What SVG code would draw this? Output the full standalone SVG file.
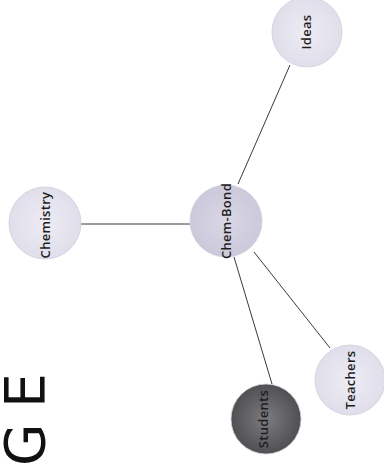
<svg xmlns="http://www.w3.org/2000/svg" width="384" height="467" viewBox="0 0 384 467">
  <defs>
    <radialGradient id="lav" cx="50%" cy="50%" r="50%">
      <stop offset="0" stop-color="#eeedf5"/>
      <stop offset="1" stop-color="#dfdeea"/>
    </radialGradient>
    <radialGradient id="hub" cx="50%" cy="50%" r="50%">
      <stop offset="0" stop-color="#dad8e6"/>
      <stop offset="1" stop-color="#cbc9da"/>
    </radialGradient>
    <radialGradient id="dark" cx="50%" cy="50%" r="50%">
      <stop offset="0" stop-color="#7c7c7e"/>
      <stop offset="1" stop-color="#505052"/>
    </radialGradient>
  </defs>
  <style>
    .node { stroke: #cfcdd8; stroke-width: 0.8; }
    .lbl { font-family: "Open Sans", "Liberation Sans", sans-serif; font-weight: 600; font-size: 13px; letter-spacing: 0.3px; fill: #1e1e22; text-anchor: middle; dominant-baseline: central; }
    .edge { stroke: #3a3a3e; stroke-width: 1; fill: none; }
    .big { font-family: "DejaVu Sans", "Liberation Sans", sans-serif; font-size: 55px; fill: #111; }
  </style>
  <rect width="384" height="467" fill="#ffffff"/>

  <g id="connectors">
    <line class="edge" x1="81" y1="224" x2="190" y2="224"/>
    <line class="edge" x1="290" y1="65" x2="238" y2="184"/>
    <line class="edge" x1="254" y1="252" x2="330" y2="348"/>
    <line class="edge" x1="234" y1="257" x2="272" y2="384"/>
  </g>

  <g id="chemistry">
    <circle class="node" cx="45" cy="223" r="36" fill="url(#lav)"/>
    <text class="lbl" x="45" y="225" transform="rotate(-90 45 225)">Chemistry</text>
  </g>

  <g id="chem-bond">
    <circle class="node" cx="226" cy="221" r="36" fill="url(#hub)"/>
    <text class="lbl" x="226" y="221" transform="rotate(-90 226 221)">Chem-Bond</text>
  </g>

  <g id="ideas">
    <circle class="node" cx="307" cy="32" r="35" fill="url(#lav)"/>
    <text class="lbl" x="306" y="32" transform="rotate(-90 306 32)">Ideas</text>
  </g>

  <g id="teachers">
    <circle class="node" cx="350" cy="380" r="35" fill="url(#lav)"/>
    <text class="lbl" x="350" y="380" transform="rotate(-90 350 380)">Teachers</text>
  </g>

  <g id="students">
    <circle class="node" cx="266" cy="419" r="35" fill="url(#dark)" stroke="#4a4a4c"/>
    <text class="lbl" x="263" y="419" transform="rotate(-90 263 419)">Students</text>
  </g>

  <g id="title">
    <text class="big" transform="translate(44 466) rotate(-90)"><tspan x="0" y="0">G</tspan><tspan x="58" y="0">E</tspan></text>
  </g>
</svg>
